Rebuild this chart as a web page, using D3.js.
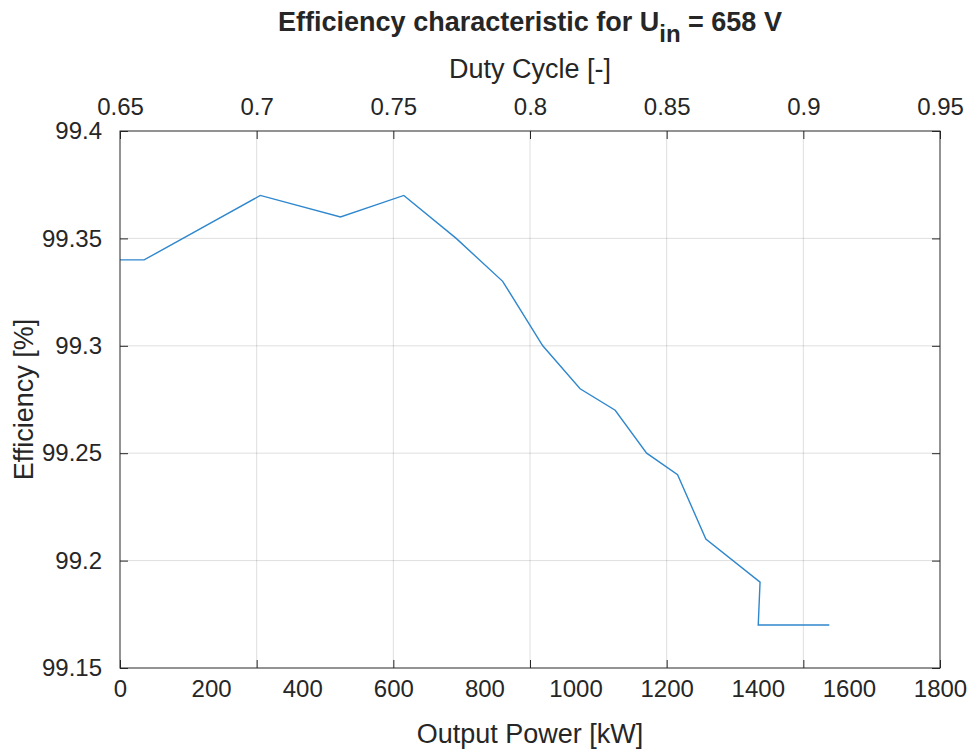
<!DOCTYPE html>
<html>
<head>
<meta charset="utf-8">
<script src="https://cdn.jsdelivr.net/npm/d3@7"></script>
<style>
  body { margin: 0; background: #fff; }
  text { font-family: "Liberation Sans", Arial, Helvetica, sans-serif; fill: #262626; }
</style>
</head>
<body>
<div id="chart"></div>
<script>
// values
var powerKW = [0, 53, 308, 484, 623, 738, 840, 928, 1010, 1087, 1156, 1224, 1286, 1405, 1401, 1557];
var efficiency = [99.34, 99.34, 99.37, 99.36, 99.37, 99.35, 99.33, 99.30, 99.28, 99.27, 99.25, 99.24, 99.21, 99.19, 99.17, 99.17];

var powerTicks = [0, 200, 400, 600, 800, 1000, 1200, 1400, 1600, 1800];
var dutyTicks = [0.65, 0.7, 0.75, 0.8, 0.85, 0.9, 0.95];
var dutyLabels = ["0.65", "0.7", "0.75", "0.8", "0.85", "0.9", "0.95"];
var effTicks = [99.15, 99.2, 99.25, 99.3, 99.35, 99.4];
var effLabels = ["99.15", "99.2", "99.25", "99.3", "99.35", "99.4"];

var margin = {top: 131, right: 32, bottom: 84, left: 120};
var width = 972 - margin.left - margin.right,
    height = 752 - margin.top - margin.bottom;

var svg = d3.select("#chart").append("svg")
    .attr("width", 972)
    .attr("height", 752);

var g = svg.append("g")
    .attr("transform", "translate(" + margin.left + "," + margin.top + ")");

var x = d3.scaleLinear().domain([0, 1800]).range([0, width]);
var xTop = d3.scaleLinear().domain([0.65, 0.95]).range([0, width]);
var y = d3.scaleLinear().domain([99.15, 99.4]).range([height, 0]);

// grid
g.append("g").selectAll("line")
    .data(dutyTicks.slice(1, -1))
    .enter().append("line")
    .attr("x1", function(d) { return xTop(d); })
    .attr("x2", function(d) { return xTop(d); })
    .attr("y1", 0).attr("y2", height)
    .attr("stroke", "#262626").attr("stroke-opacity", 0.15);

g.append("g").selectAll("line")
    .data(effTicks.slice(1, -1))
    .enter().append("line")
    .attr("y1", function(d) { return y(d); })
    .attr("y2", function(d) { return y(d); })
    .attr("x1", 0).attr("x2", width)
    .attr("stroke", "#262626").attr("stroke-opacity", 0.15);

// line
var line = d3.line()
    .x(function(d, i) { return x(powerKW[i]); })
    .y(function(d) { return y(d); });

g.append("path")
    .datum(efficiency)
    .attr("fill", "none")
    .attr("stroke", "#2f87cd")
    .attr("stroke-width", 1.4)
    .attr("d", line);

// axes
function styleAxis(sel) {
    sel.select(".domain").remove();
    sel.selectAll("line").attr("stroke", "#262626");
    sel.selectAll("text").style("font-size", "24px").attr("fill", "#262626");
}

// bottom labels (power) without tick marks
g.append("g")
    .attr("transform", "translate(0," + height + ")")
    .call(d3.axisBottom(x).tickValues(powerTicks).tickSize(0).tickPadding(12).tickFormat(d3.format("d")))
    .call(styleAxis);

// bottom tick marks at duty positions
g.append("g")
    .attr("transform", "translate(0," + height + ")")
    .call(d3.axisBottom(xTop).tickValues(dutyTicks).tickSizeInner(-8).tickSizeOuter(0).tickFormat(""))
    .call(styleAxis);

// top axis
g.append("g")
    .call(d3.axisTop(xTop).tickValues(dutyTicks).tickSizeInner(-8).tickSizeOuter(0).tickPadding(16)
        .tickFormat(function(d, i) { return dutyLabels[i]; }))
    .call(styleAxis);

// left axis
g.append("g")
    .call(d3.axisLeft(y).tickValues(effTicks).tickSizeInner(-8).tickSizeOuter(0).tickPadding(18)
        .tickFormat(function(d, i) { return effLabels[i]; }))
    .call(styleAxis);

// right ticks
g.append("g")
    .attr("transform", "translate(" + width + ",0)")
    .call(d3.axisRight(y).tickValues(effTicks).tickSizeInner(-8).tickSizeOuter(0).tickFormat(""))
    .call(styleAxis);

// box
g.append("rect")
    .attr("width", width).attr("height", height)
    .attr("fill", "none")
    .attr("stroke", "#262626")
    .attr("stroke-width", 1);

// labels
svg.append("text")
    .attr("x", margin.left + width / 2)
    .attr("y", 743)
    .attr("text-anchor", "middle")
    .style("font-size", "27px")
    .text("Output Power [kW]");

svg.append("text")
    .attr("x", margin.left + width / 2)
    .attr("y", 78)
    .attr("text-anchor", "middle")
    .style("font-size", "27px")
    .text("Duty Cycle [-]");

svg.append("text")
    .attr("transform", "translate(33," + (margin.top + height / 2) + ")rotate(-90)")
    .attr("text-anchor", "middle")
    .style("font-size", "27px")
    .text("Efficiency [%]");

var title = svg.append("text")
    .attr("x", margin.left + width / 2)
    .attr("y", 31)
    .attr("text-anchor", "middle")
    .style("font-size", "27px")
    .style("font-weight", "bold")
    .attr("fill", "#000");
title.append("tspan").text("Efficiency characteristic for U");
title.append("tspan").attr("dy", 11).style("font-size", "24px").text("in");
title.append("tspan").attr("dy", -11).text(" = 658 V");
</script>
</body>
</html>
